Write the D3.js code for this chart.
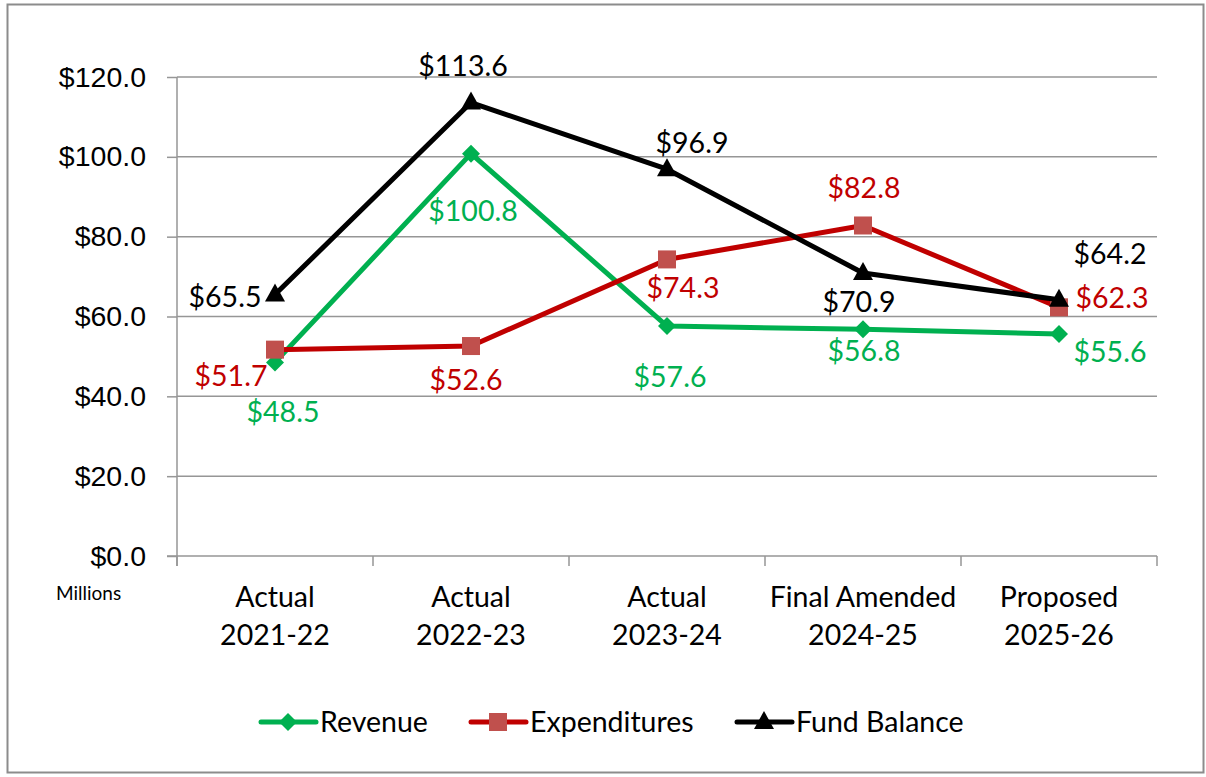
<!DOCTYPE html>
<html>
<head>
<meta charset="utf-8">
<script src="https://cdn.jsdelivr.net/npm/d3@7"></script>
<style>
  body { margin: 0; background: #fff; }
  svg { font-family: Lato, "Open Sans", sans-serif; }
</style>
</head>
<body>
<svg id="chart" width="1206" height="777"></svg>
<script>
const categories = [['Actual', '2021-22'], ['Actual', '2022-23'], ['Actual', '2023-24'], ['Final Amended', '2024-25'], ['Proposed', '2025-26']]
const yTicks = [0, 20, 40, 60, 80, 100, 120]
const revenue = [48.5, 100.8, 57.6, 56.8, 55.6]
const expenditures = [51.7, 52.6, 74.3, 82.8, 62.3]
const fundBalance = [65.5, 113.6, 96.9, 70.9, 64.2]

// label nudges (px) for each point, like the hand placed labels in the original
const revenueLabelOffset = [[8, 50], [2, 57], [3, 51], [1, 22], [51, 18]]
const expenditureLabelOffset = [[-44, 26], [-5, 34], [16, 29], [1, -37], [53, -9]]
const fundLabelOffset = [[-50, 2], [-8, -37], [25, -26], [-4, 29], [51, -46]]

const series = [
    {name: 'Revenue', values: revenue, line: '#00B050', marker: '#00B050', text: '#00B050', shape: 'diamond', offs: revenueLabelOffset},
    {name: 'Expenditures', values: expenditures, line: '#C00000', marker: '#C0504D', text: '#C00000', shape: 'square', offs: expenditureLabelOffset},
    {name: 'Fund Balance', values: fundBalance, line: '#000000', marker: '#000000', text: '#000000', shape: 'triangle', offs: fundLabelOffset}
]

const fontSize = '28.5px'
const svg = d3.select('#chart')
const margin = {left: 177, right: 1157, top: 77, bottom: 556}

// outer frame
svg.append('rect')
    .attr('x', 7.5).attr('y', 4.5).attr('width', 1196).attr('height', 768)
    .style('fill', 'none').style('stroke', '#8c8c8c').style('stroke-width', 2)

const x = d3.scaleBand()
    .domain(d3.range(categories.length))
    .range([margin.left, margin.right])

const y = d3.scaleLinear()
    .domain([0, 120])
    .range([margin.bottom, margin.top])

const cx = i => x(i) + x.bandwidth() / 2

// y ticks
const yAxis = svg.append('g')
    .attr('transform', `translate(${margin.left}, 0)`)
    .call(d3.axisLeft(y).tickValues(yTicks).tickSize(10).tickPadding(21)
        .tickFormat(d => '$' + d3.format('.1f')(d)))
yAxis.select('.domain').remove()
yAxis.selectAll('line').style('stroke', '#969696').style('stroke-width', 1.5)
yAxis.selectAll('text').style('font-size', fontSize).style('fill', '#000')

// gridlines
svg.append('g').selectAll('line')
    .data(yTicks.filter(d => d > 0))
    .join('line')
    .attr('x1', margin.left).attr('x2', margin.right)
    .attr('y1', d => y(d)).attr('y2', d => y(d))
    .style('stroke', '#969696').style('stroke-width', 1.5)

// axis lines
svg.append('line')
    .attr('x1', margin.left).attr('x2', margin.left)
    .attr('y1', margin.top).attr('y2', margin.bottom + 10)
    .style('stroke', '#969696').style('stroke-width', 1.5)
svg.append('line')
    .attr('x1', margin.left - 10).attr('x2', margin.right)
    .attr('y1', margin.bottom).attr('y2', margin.bottom)
    .style('stroke', '#969696').style('stroke-width', 1.5)

// category boundary ticks
svg.append('g').selectAll('line')
    .data(d3.range(categories.length + 1))
    .join('line')
    .attr('x1', i => margin.left + i * x.bandwidth())
    .attr('x2', i => margin.left + i * x.bandwidth())
    .attr('y1', margin.bottom).attr('y2', margin.bottom + 10)
    .style('stroke', '#969696').style('stroke-width', 1.5)

// category labels
const catText = svg.append('g').selectAll('text')
    .data(categories)
    .join('text')
    .attr('x', (d, i) => cx(i))
    .attr('y', 607)
    .style('text-anchor', 'middle')
    .style('font-size', fontSize)
catText.selectAll('tspan')
    .data(d => d)
    .join('tspan')
    .attr('x', function() { return this.parentNode.getAttribute('x') })
    .attr('dy', (d, i) => i ? 38 : 0)
    .text(d => d)

svg.append('text')
    .attr('x', 56).attr('y', 600)
    .style('font-size', '19px')
    .text('Millions')

function drawMarker(g, shape, color) {
    if (shape == 'diamond') {
        g.append('path').attr('d', 'M0,-9L9,0L0,9L-9,0Z').style('fill', color)
    } else if (shape == 'square') {
        g.append('rect').attr('x', -9).attr('y', -9).attr('width', 18).attr('height', 18).style('fill', color)
    } else {
        g.append('path').attr('d', 'M0,-11L10,7L-10,7Z').style('fill', color)
    }
}

const line = d3.line().x((d, i) => cx(i)).y(d => y(d))

series.forEach(s => {
    const g = svg.append('g')
    g.append('path')
        .datum(s.values)
        .attr('d', line)
        .style('fill', 'none')
        .style('stroke', s.line)
        .style('stroke-width', 5)
        .style('stroke-linejoin', 'round')
    s.values.forEach((v, i) => {
        drawMarker(g.append('g').attr('transform', `translate(${cx(i)}, ${y(v)})`), s.shape, s.marker)
    })
})

// data labels on top
series.forEach(s => {
    svg.append('g').selectAll('text')
        .data(s.values)
        .join('text')
        .attr('x', (d, i) => cx(i) + s.offs[i][0])
        .attr('y', (d, i) => y(d) + s.offs[i][1])
        .attr('dy', '0.35em')
        .style('text-anchor', 'middle')
        .style('font-size', fontSize)
        .style('fill', s.text)
        .text(d => '$' + d3.format('.1f')(d))
})

// legend
const legendX = [261, 471, 737]
const legend = svg.append('g').selectAll('g')
    .data(series)
    .join('g')
    .attr('transform', (d, i) => `translate(${legendX[i]}, 722)`)
legend.append('line')
    .attr('x1', 0).attr('x2', 55)
    .style('stroke', d => d.line).style('stroke-width', 5).style('stroke-linecap', 'round')
legend.each(function(d) {
    drawMarker(d3.select(this).append('g').attr('transform', 'translate(27, 0)'), d.shape, d.marker)
})
legend.append('text')
    .attr('x', 59).attr('dy', '0.35em')
    .style('font-size', fontSize)
    .text(d => d.name)
</script>
</body>
</html>
